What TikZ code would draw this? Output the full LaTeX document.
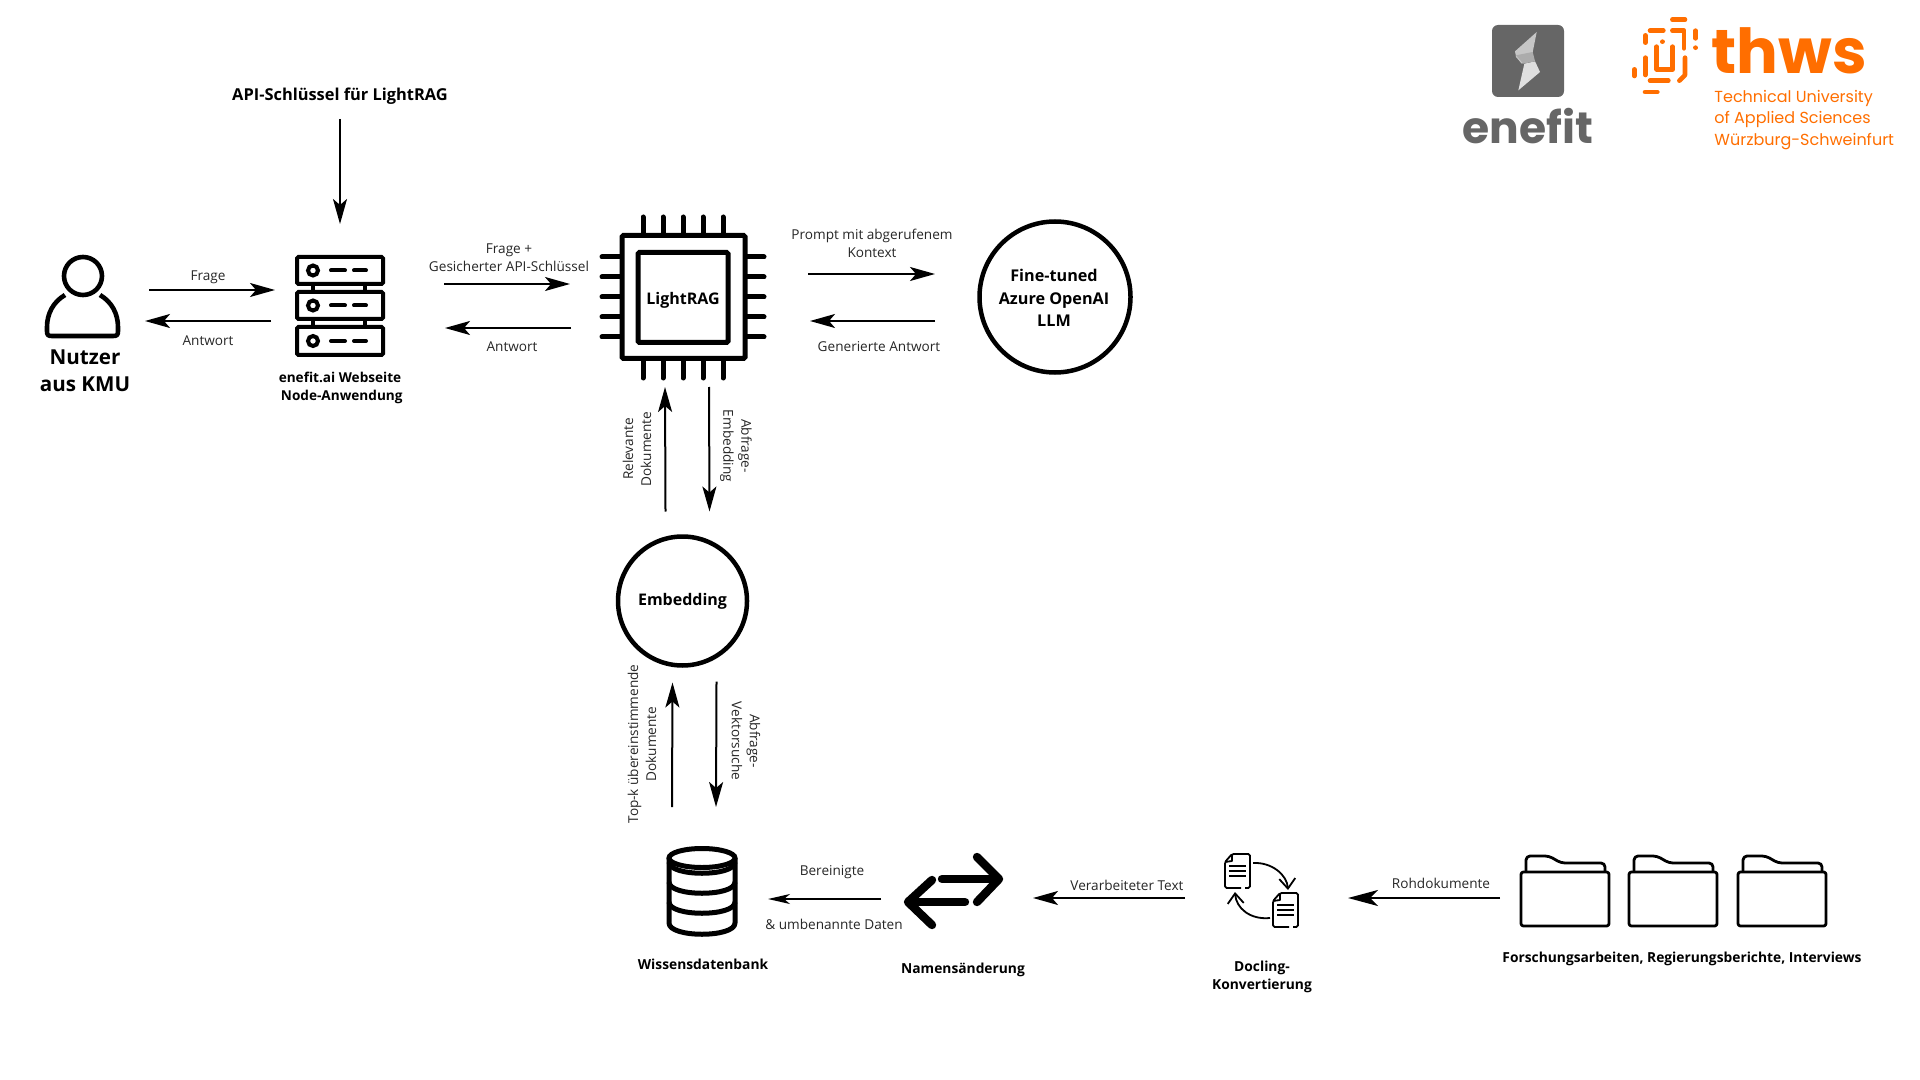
\documentclass[tikz,border=0pt]{standalone}
\usepackage{fontspec}
\setmainfont{Open Sans}
\newfontfamily\logofont{Poppins}
\usetikzlibrary{arrows.meta}

\begin{document}
\begin{tikzpicture}[x=0.5pt, y=-0.5pt,
  plain arrow/.style={draw=black, line width=1pt, -{Stealth[length=12.5pt,width=7pt,inset=3pt]}},
  thin arrow/.style={draw=black, line width=0.75pt, -{Stealth[length=11pt,width=5pt,inset=3pt]}},
  thick arrow/.style={draw=black, line width=1.25pt, -{Stealth[length=15pt,width=8pt,inset=4pt]}},
  icon/.style={inner sep=0pt, outer sep=0pt},
  small label/.style={align=center, text=text dark, inner sep=0pt, font=\fontsize{6.8}{9}\selectfont},
  bold label/.style={align=center, text=black, inner sep=0pt, font=\fontsize{6.9}{9}\selectfont\bfseries},
  big label/.style={align=center, text=black, inner sep=0pt, font=\fontsize{8.1}{11.2}\selectfont\bfseries},
  thws dash/.style={draw=thws orange, line width=2.3pt, line cap=round, line join=round}]

\definecolor{text dark}{gray}{0.15}
\definecolor{thws orange}{HTML}{FF6E00}
\definecolor{enefit grey}{HTML}{666666}

\useasboundingbox (0,0) rectangle (1920,1080);

% user
\node[icon, minimum width=35.5pt, minimum height=42pt] (user) at (82.5,296) {};
\draw[line width=2.3pt] (83,276) circle (19);
\draw[line width=2.3pt, line join=round] (65,295) .. controls (53,302) and (47,314) .. (47,327)
  -- (47,331) .. controls (47,335) and (48,336) .. (52,336) -- (113,336)
  .. controls (117,336) and (118,335) .. (118,331) -- (118,327)
  .. controls (118,314) and (112,302) .. (100,295);
\node[big label, font=\fontsize{10.3}{13.7}\selectfont\bfseries] (userlabel) at (85,371) {Nutzer\\aus KMU};

% server
\node[icon, minimum width=43pt, minimum height=49pt] (server) at (340,306) {};
\foreach \ya/\yb in {257/284,292/319,327/355} {
  \draw[line width=2pt, rounded corners=0.7pt] (297,\ya) rectangle (383,\yb);
  \draw[line width=2pt] (313,{(\ya+\yb)/2}) circle (5);
  \draw[line width=2pt, line cap=round] (331,{(\ya+\yb)/2}) -- (345,{(\ya+\yb)/2});
  \draw[line width=2pt, line cap=round] (354,{(\ya+\yb)/2}) -- (366,{(\ya+\yb)/2});
}
\foreach \xa in {313,365} {
  \draw[line width=2pt] (\xa,284) -- (\xa,292);
  \draw[line width=2pt] (\xa,319) -- (\xa,327);
}
\node[bold label, font=\fontsize{6.8}{9}\selectfont\bfseries] (serverlabel) at (340,388) {enefit.ai Webseite\\\ Node-Anwendung};
\node[big label, font=\fontsize{8.2}{11}\selectfont\bfseries] (apikey) at (340,96) {API-Schlüssel für LightRAG};

% chip
\foreach \pin in {643,663,683,703,723} {
  \draw[line width=2.5pt, line cap=round] (\pin,217) -- (\pin,235);
  \draw[line width=2.5pt, line cap=round] (\pin,358) -- (\pin,378);
}
\foreach \pin in {257,277,297,317,337} {
  \draw[line width=2.5pt, line cap=round] (602,\pin) -- (622,\pin);
  \draw[line width=2.5pt, line cap=round] (745,\pin) -- (764,\pin);
}
\node[icon, draw, fill=white, line width=2.5pt, rounded corners=0.7pt, minimum size=61.5pt] (chipcase) at (683.5,297) {};
\node[icon, draw, fill=white, line width=2.5pt, rounded corners=0.7pt, minimum size=45pt] (chip) at (683,297.5) {};
\node[big label, font=\fontsize{8}{10}\selectfont\bfseries] (chiplabel) at (683,300) {LightRAG};

% circles
\node[icon, draw, circle, line width=2.25pt, minimum size=75.5pt] (llm) at (1055,297) {};
\node[big label] (llmlabel) at (1054,298) {Fine-tuned\\Azure OpenAI\\LLM};
\node[icon, draw, circle, line width=2.25pt, minimum size=64.5pt] (embedding) at (682.5,601) {};
\node[big label, font=\fontsize{8}{10}\selectfont\bfseries] (embeddinglabel) at (682.5,601.5) {Embedding};

% database
\node[icon, minimum width=35pt, minimum height=44.5pt] (db) at (702,891.5) {};
\draw[line width=2.5pt] (702,858) ellipse [x radius=33, y radius=9.5];
\draw[line width=2.5pt, line join=round] (669,858) -- (669,923) .. controls (669,938) and (735,938) .. (735,923) -- (735,858);
\foreach \yc in {862,882,902} {
  \draw[line width=2.5pt] (669,\yc) .. controls (669,\yc+15) and (735,\yc+15) .. (735,\yc);
}
\node[bold label] (dblabel) at (703,964) {Wissensdatenbank};

% renaming
\node[icon, minimum width=45pt, minimum height=34pt] (swap) at (953,891) {};
\draw[line width=4.2pt, line cap=round, line join=round] (942,879) -- (996,879);
\draw[line width=4.2pt, line cap=round, line join=round] (977,857) -- (999,879) -- (977,902);
\draw[line width=4.2pt, line cap=round, line join=round] (965,902) -- (911,902);
\draw[line width=4.2pt, line cap=round, line join=round] (932,880) -- (908,902) -- (932,925);
\node[bold label] (swaplabel) at (963,970) {Namensänderung};

% docling
\node[icon, minimum width=36.5pt, minimum height=36.5pt] (docling) at (1261.5,890.5) {};
\foreach \dx/\dy in {0/0,48/39} {
  \begin{scope}[shift={(\dx,\dy)}, line width=0.9pt, line join=round]
    \draw[rounded corners=0.8pt] (1241,888) -- (1225,888) -- (1225,862) -- (1232,854) -- (1250,854) -- (1250,888) -- (1245,888);
    \draw (1232,854) -- (1232,861) -- (1225,862);
    \foreach \yl in {866,871,876} { \draw (1229,\yl) -- (1246,\yl); }
  \end{scope}
}
\draw[line width=0.9pt, -{Straight Barb[length=5pt,width=8pt]}] (1253,863) .. controls (1272,862) and (1287,875) .. (1288,890);
\draw[line width=0.9pt, -{Straight Barb[length=5pt,width=8pt]}] (1270,918) .. controls (1250,920) and (1236,908) .. (1235,892);
\node[bold label] (doclinglabel) at (1262,977) {Docling-\\Konvertierung};

% folders
\node[icon, minimum width=153.5pt, minimum height=36pt] (folders) at (1673.5,891) {};
\foreach \fx in {0,108,217} {
  \begin{scope}[shift={(\fx,0)}, line width=1.4pt, line join=round]
    \draw[rounded corners=1.2pt] (1521,872) rectangle (1609,926);
    \draw[rounded corners=2pt] (1526,872) -- (1526,856) -- (1549,856) -- (1561,863) -- (1605,863) -- (1605,872);
  \end{scope}
}
\node[bold label] (folderslabel) at (1682,958.5) {Forschungsarbeiten, Regierungsberichte, Interviews};

% small labels
\foreach \name/\xl/\yl/\txt in {lfrage/208/277/Frage, lantwort/208/341/Antwort,
  lfrageplus/509/258/{Frage +\\Gesicherter API-Schlüssel}, lantworttwo/512/347/Antwort,
  lprompt/872/243/{Prompt mit abgerufenem\\Kontext}, lgenantwort/879/347/Generierte Antwort,
  lbereinigt/832/872/Bereinigte, lumbenannt/834/924/{\& umbenannte Daten},
  lverarbeitet/1127/885/Verarbeiteter Text, lrohdok/1441/883/Rohdokumente}
\node[small label] (\name) at (\xl,\yl) {\txt};

\foreach \name/\xl/\yl/\rot/\txt in {lrelevant/637/449/90/{Relevante\\Dokumente},
  labfrage/736/446/-90/{Abfrage-\\Embedding},
  ltopk/642/744/90/{Top-k übereinstimmende\\Dokumente},
  lvektor/746/741/-90/{Abfrage-\\Vektorsuche}}
\node[small label, rotate=\rot] (\name) at (\xl,\yl) {\txt};

% arrows
\draw[plain arrow] ([shift={(0,23)}]apikey.center) -- ([shift={(0,-33)}]server.north);
\draw[plain arrow] ([shift={(31,-6)}]user.east) -- ([shift={(-22,-16)}]server.west);
\draw[plain arrow] ([shift={(-26,15)}]server.west) -- ([shift={(27,25)}]user.east);
\draw[plain arrow] ([shift={(61,-22)}]server.east) -- ([shift={(-52,-13)}]chipcase.west);
\draw[plain arrow] ([shift={(-51,31)}]chipcase.west) -- ([shift={(62,22)}]server.east);
\draw[plain arrow] ([shift={(63,-23)}]chipcase.east) -- ([shift={(-44.5,-23)}]llm.west);
\draw[plain arrow] ([shift={(-44.5,24)}]llm.west) -- ([shift={(65,24)}]chipcase.east);
\draw[plain arrow] ([shift={(-17,-25)}]embedding.north) -- ([shift={(-18.5,28.5)}]chipcase.south);
\draw[plain arrow] ([shift={(25.5,28.5)}]chipcase.south) -- ([shift={(27,-25)}]embedding.north);
\draw[plain arrow] ([shift={(-30,-40)}]db.north) -- ([shift={(-10,17)}]embedding.south);
\draw[plain arrow] ([shift={(34,16)}]embedding.south) -- ([shift={(14,-40)}]db.north);
\draw[thin arrow] ([shift={(-27,8)}]swap.west) -- ([shift={(31,7.5)}]db.east);
\draw[plain arrow] ([shift={(-40,7.5)}]docling.west) -- ([shift={(35,7)}]swap.east);
\draw[thick arrow] ([shift={(-20,7)}]folders.west) -- ([shift={(50,7.5)}]docling.east);

% enefit logo
\fill[enefit grey, rounded corners=3pt] (1492,25) rectangle (1564,97);
\begin{scope}[shift={(1490,22)}, x=0.1667pt, y=-0.1667pt]
  \fill[gray!45] (140,30) -- (75,88) -- (78,105) -- (95,125) -- (125,115) -- (128,90) -- cycle;
  \fill[gray!25] (85,205) -- (103,125) -- (135,118) -- (150,150) -- cycle;
  \fill[gray!65] (78,100) -- (128,90) -- (135,118) -- (100,125) -- cycle;
\end{scope}
\node[inner sep=0pt, anchor=base, text=enefit grey, font=\fontsize{22}{22}\logofont\bfseries] (enefit) at (1528,144) {enefit};

% thws logo
\begin{scope}[shift={(1630,10)}, x=0.1667pt, y=-0.1667pt]
  \draw[thws dash] (127,29) -- (165,29);
  \draw[thws dash] (60,62) -- (100,62);
  \draw[thws dash] (46,76) -- (46,98);
  \draw[thws dash] (127,62) -- (162,62) -- (162,115);
  \draw[thws dash] (197,62) -- (197,85);
  \draw[thws dash] (197,113) -- (197,113.1);
  \draw[thws dash] (97,95) -- (97,95.1);
  \draw[thws dash] (80,110) -- (80,178) -- (128,178) -- (128,110);
  \draw[thws dash] (46,143) -- (46,195);
  \draw[thws dash] (13,178) -- (13,198);
  \draw[thws dash] (60,212) -- (115,212);
  \draw[thws dash] (165,143) -- (165,195) -- (148,212);
  \draw[thws dash] (45,246) -- (82,246);
\end{scope}
\node[inner sep=0pt, anchor=base west, text=thws orange, font=\fontsize{31}{31}\logofont\bfseries] (thws) at (1711,74) {thws};
\node[inner sep=0pt, anchor=north west, align=left, text=thws orange, font=\fontsize{8}{10.7}\logofont] (thwsname) at (1714,90) {Technical University\\of Applied Sciences\\Würzburg-Schweinfurt};
\end{tikzpicture}
\end{document}
